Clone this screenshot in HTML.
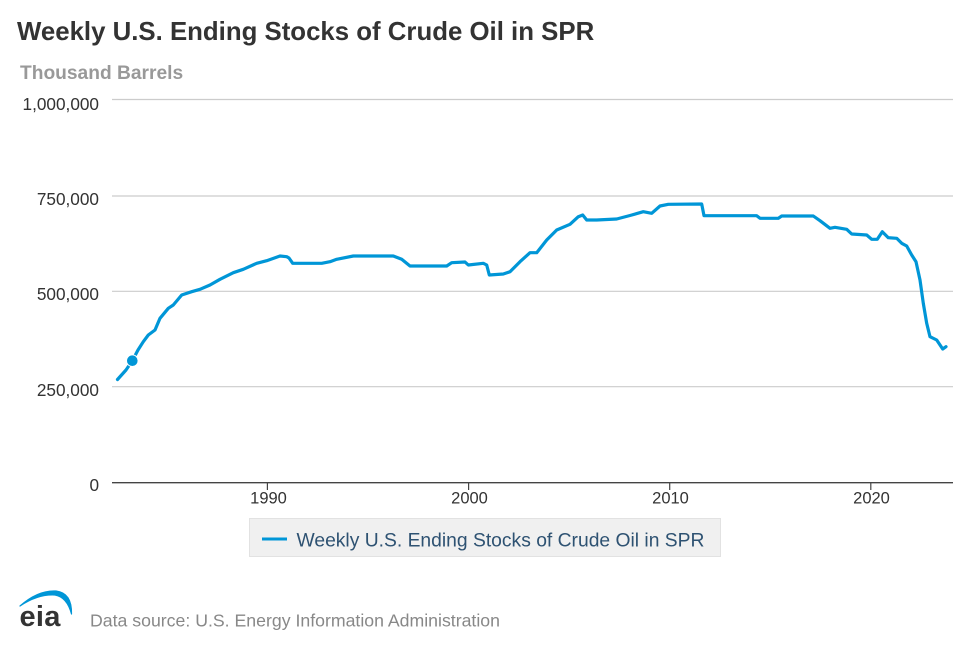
<!DOCTYPE html>
<html>
<head>
<meta charset="utf-8">
<style>
html,body{margin:0;padding:0;background:#fff;}
body{width:970px;height:647px;overflow:hidden;position:relative;font-family:"Liberation Sans",Arial,sans-serif;}
svg{position:absolute;left:0;top:0;}
</style>
</head>
<body>
<svg width="970" height="647" viewBox="0 0 970 647" xmlns="http://www.w3.org/2000/svg" font-family="Liberation Sans, Arial, sans-serif">
  <rect x="0" y="0" width="970" height="647" fill="#ffffff"/>
  <!-- Title -->
  <text x="17" y="40" font-size="25.8" font-weight="bold" fill="#333333">Weekly U.S. Ending Stocks of Crude Oil in SPR</text>
  <text x="20" y="79" font-size="19.2" font-weight="bold" fill="#999999">Thousand Barrels</text>

  <!-- Gridlines -->
  <g stroke="#cccccc" stroke-width="1.2">
    <line x1="112" y1="99.5" x2="953" y2="99.5"/>
    <line x1="112" y1="196" x2="953" y2="196"/>
    <line x1="112" y1="291.3" x2="953" y2="291.3"/>
    <line x1="112" y1="386.7" x2="953" y2="386.7"/>
  </g>
  <!-- X axis -->
  <line x1="112" y1="482.7" x2="953" y2="482.7" stroke="#444444" stroke-width="1.3"/>
  <g stroke="#444444" stroke-width="1.2">
    <line x1="267.4" y1="482.7" x2="267.4" y2="490"/>
    <line x1="468.6" y1="482.7" x2="468.6" y2="490"/>
    <line x1="669.7" y1="482.7" x2="669.7" y2="490"/>
    <line x1="870.8" y1="482.7" x2="870.8" y2="490"/>
  </g>

  <!-- Y labels -->
  <g font-size="17.2" fill="#333333" text-anchor="end">
    <text x="99" y="110">1,000,000</text>
    <text x="99" y="205">750,000</text>
    <text x="99" y="300">500,000</text>
    <text x="99" y="396">250,000</text>
    <text x="99" y="491">0</text>
  </g>
  <!-- X labels -->
  <g font-size="16.5" fill="#333333" text-anchor="middle">
    <text x="268.5" y="503.5">1990</text>
    <text x="469.5" y="503.5">2000</text>
    <text x="670.5" y="503.5">2010</text>
    <text x="871.5" y="503.5">2020</text>
  </g>

  <!-- Series -->
  <polyline fill="none" stroke="#0096d7" stroke-width="3.2" stroke-linejoin="round" stroke-linecap="round"
    points="117.5,379.5 126,370 132.3,360.7 138,350 143.3,341.7 148.3,335 155,330 160,318.3 168.3,308.3 173.3,305 181.7,295 191.7,291.7 200,289.3 210,285 220,279.3 233.3,272.7 243.3,269.3 256.7,263.3 266.7,260.7 280,256 286.7,256.7 289,258 292.7,263.3 321.7,263.3 330,261.7 336.7,259.3 353.3,256 393.3,256 401.7,259.3 410,266 446.7,266 451.7,262.7 465,262 468.3,265 483.3,263.3 486.7,265 489.3,275 503.3,274 510,271.7 520,261.7 530,252.7 536.7,252.7 546.7,240 556.7,230 570,224.3 578.3,216.7 582.7,215 586.7,220 596.7,220 616.7,219 630,215.5 643.3,211.7 651.7,213.3 660,206 668.3,204.3 701.7,204 704,215.7 756.7,215.7 760,218.3 778.3,218.3 781.7,216 813.3,216 820,220.7 830,228.3 835,227.3 846.7,229.3 851.7,234 866.7,235 871.7,239.3 877.3,239.3 882.3,231.7 888.3,237.7 896.7,238.3 901.7,243.3 906.7,246 911.7,255 916,261.7 920,280 923.3,303.3 926.7,323.3 930,336.7 936.7,340 942.7,349 946,346.7"/>
  <circle cx="132.3" cy="360.7" r="5.8" fill="#0096d7" stroke="#ffffff" stroke-width="1"/>

  <!-- Legend -->
  <rect x="249.5" y="518.5" width="471" height="38" fill="#f0f0f0" stroke="#e2e2e2" stroke-width="1"/>
  <line x1="262" y1="539" x2="287" y2="539" stroke="#0096d7" stroke-width="3"/>
  <text x="296.5" y="546.5" font-size="19.3" fill="#2e5272">Weekly U.S. Ending Stocks of Crude Oil in SPR</text>

  <!-- Footer / logo -->
  <path d="M20,606 Q38,590 56,591 Q72,593 71.5,614 Q67,597 55,595 Q38,594 20,606 Z" fill="#0096d7" stroke="#0096d7" stroke-width="1.2" stroke-linejoin="round"/>
  <text x="19.5" y="626" font-size="29" font-weight="bold" fill="#333333" letter-spacing="0.3">eia</text>
  <text x="90" y="626.5" font-size="17.7" fill="#888888">Data source: U.S. Energy Information Administration</text>
</svg>
</body>
</html>
